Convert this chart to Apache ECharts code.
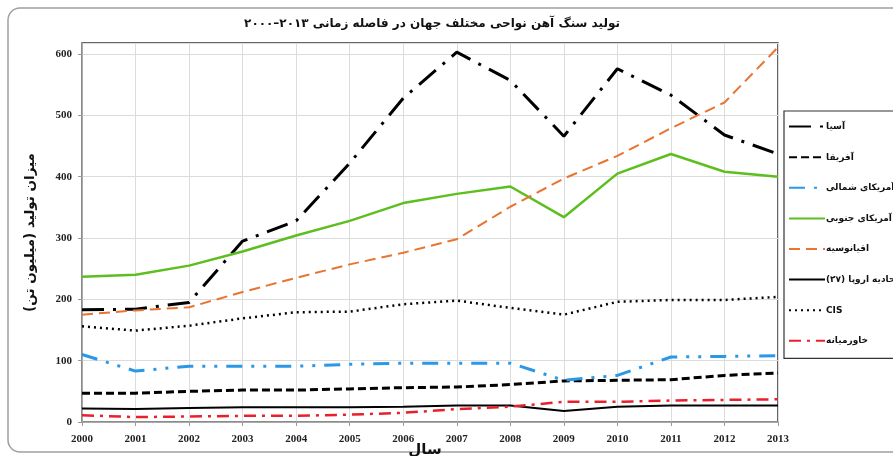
<!DOCTYPE html>
<html>
<head>
<meta charset="utf-8">
<script src="https://cdn.jsdelivr.net/npm/echarts@6/dist/echarts.min.js"></script>
<style>
  html, body { margin: 0; padding: 0; background: #fff; }
  #chart { width: 893px; height: 456px; }
</style>
</head>
<body>
<div id="chart"></div>
<script>
    // years on the x axis
    var years = ['2000', '2001', '2002', '2003', '2004', '2005', '2006', '2007', '2008', '2009', '2010', '2011', '2012', '2013']

    // production, million tonnes
    var asia         = [183, 184, 195, 295, 328, 422, 528, 603, 557, 466, 576, 533, 468, 437]
    var africa       = [47, 47, 50, 52, 52, 54, 56, 57, 61, 67, 68, 69, 76, 80]
    var northAmerica = [110, 83, 91, 91, 91, 94, 96, 96, 96, 68, 76, 106, 107, 108]
    var southAmerica = [237, 240, 255, 278, 304, 328, 357, 372, 384, 334, 405, 437, 408, 400]
    var oceania      = [175, 182, 187, 212, 235, 257, 276, 298, 351, 397, 434, 479, 521, 611]
    var eu27         = [22, 21, 23, 24, 24, 24, 25, 27, 27, 18, 25, 27, 27, 27]
    var cis          = [156, 149, 157, 169, 179, 180, 192, 198, 186, 175, 196, 199, 199, 204]
    var middleEast   = [11, 8, 9, 10, 10, 12, 15, 21, 25, 33, 33, 35, 36, 37]

    var RLM = '\u200F'
    var names = ['آسیا', 'آفریقا', 'آمریکای شمالی', 'آمریکای جنوبی', 'اقیانوسیه',
                 RLM + 'اتحادیه اروپا (۲۷)' + RLM, 'CIS', 'خاورمیانه']

    var fa = "'DejaVu Sans', 'Noto Sans', sans-serif"

    function line(name, data, color, width, dash) {
        return {
            name: name,
            type: 'line',
            data: data,
            symbol: 'none',
            smooth: false,
            lineStyle: { color: color, width: width, type: dash },
            itemStyle: { color: color }
        }
    }

    var chart = echarts.init(document.getElementById('chart'))
    var option = {
        backgroundColor: '#fff',
        animation: false,
        title: {
            text: 'تولید سنگ آهن نواحی مختلف جهان در فاصله زمانی ۲۰۱۳–۲۰۰۰',
            left: 427,
            textAlign: 'center',
            top: 13,
            textStyle: { fontFamily: fa, fontSize: 12, fontWeight: 'bold', color: '#111' }
        },
        graphic: [{
            type: 'rect',
            shape: { x: 8, y: 8, width: 940, height: 444, r: 12 },
            style: { fill: 'none', stroke: '#a0a0a0', lineWidth: 1.5 },
            z: -1
        }, {
            // x axis title sits between the year labels, like the original
            type: 'text',
            x: 425,
            y: 450,
            style: {
                text: 'سال',
                font: "bold 15px 'DejaVu Sans', sans-serif",
                fill: '#111',
                align: 'center',
                verticalAlign: 'middle'
            }
        }],
        legend: {
            orient: 'vertical',
            left: 784,
            top: 111,
            width: 120,
            padding: [10, 30, 12, 4],
            itemGap: 19.4,
            itemWidth: 36,
            itemHeight: 14,
            borderColor: '#333',
            borderWidth: 1.2,
            data: names,
            itemStyle: { opacity: 0 },
            textStyle: { fontFamily: fa, fontSize: 9, fontWeight: 'bold', color: '#111', padding: [0, 0, 0, -4] }
        },
        grid: {
            left: 82,
            right: 115,
            top: 43,
            bottom: 34,
            outerBoundsMode: 'none',
            containLabel: false,
            show: true,
            borderColor: '#333',
            borderWidth: 1.5
        },
        xAxis: {
            type: 'category',
            data: years,
            boundaryGap: false,
            axisLine: { lineStyle: { color: '#999', width: 1.5 } },
            axisTick: { show: true, length: 4, lineStyle: { color: '#999' } },
            axisLabel: { fontFamily: "'Liberation Serif', serif", fontSize: 11, fontWeight: 'bold', color: '#222', margin: 12 },
            splitLine: { show: true, lineStyle: { color: '#dcdcdc' } }
        },
        yAxis: {
            type: 'value',
            min: 0,
            max: 618,
            interval: 100,
            name: RLM + 'میزان تولید (میلیون تن)' + RLM,
            nameLocation: 'middle',
            nameRotate: 90,
            nameGap: 45,
            nameTextStyle: { fontFamily: fa, fontSize: 13.5, fontWeight: 'bold', color: '#111' },
            axisLine: { show: true, lineStyle: { color: '#999', width: 1.5 } },
            axisTick: { show: true, length: 4, lineStyle: { color: '#999' } },
            axisLabel: { fontFamily: "'Liberation Serif', serif", fontSize: 11, fontWeight: 'bold', color: '#222', margin: 10, showMaxLabel: false },
            splitLine: { show: true, lineStyle: { color: '#dcdcdc' } }
        },
        series: [
            line(names[0], asia, '#000', 3, [22, 9, 3, 9]),
            line(names[1], africa, '#000', 3, [8, 4]),
            line(names[2], northAmerica, '#2a98e6', 3, [16, 9, 3, 9, 3, 9]),
            line(names[3], southAmerica, '#5cbf1e', 2.5, 'solid'),
            line(names[4], oceania, '#e87430', 2, [11, 6]),
            line(names[5], eu27, '#000', 2, 'solid'),
            line(names[6], cis, '#000', 2.5, [2, 4]),
            line(names[7], middleEast, '#e8202c', 2.5, [12, 6, 3, 6])
        ]
    }
    chart.setOption(option)
</script>
</body>
</html>
